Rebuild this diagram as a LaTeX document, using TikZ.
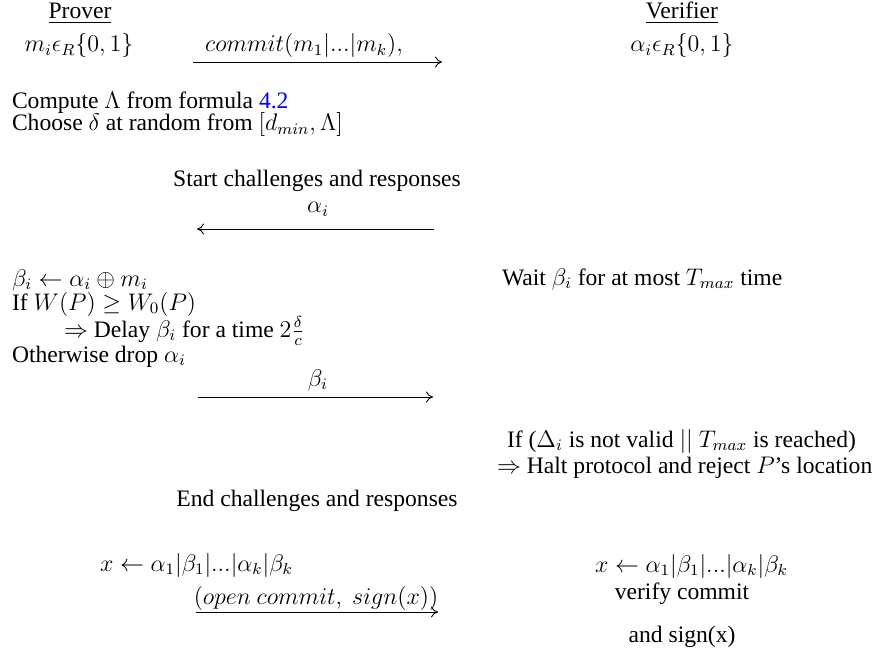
\documentclass[tikz,border=0pt]{standalone}
\usepackage[no-math]{fontspec}
\setmainfont{Liberation Serif}
\usepackage{xcolor}
\usetikzlibrary{arrows.meta}
\definecolor{linkblue}{RGB}{0,0,255}
\begin{document}
\begin{tikzpicture}[x=0.5pt,y=-0.5pt,
  every node/.style={inner sep=0pt,outer sep=0pt,font=\fontsize{11.8}{14}\selectfont},
  lt/.style={anchor=base west},
  ct/.style={anchor=base},
  msg/.style={-{To[length=3.5pt,width=5.5pt]},line width=0.45pt}]
\useasboundingbox (0,0) rectangle (881,652);
% headers
\node[ct] (prover) at (80,19) {\underline{Prover}};
\node[ct] (verifier) at (682,19) {\underline{Verifier}};
\node[ct] (mi) at (79,52) {$m_i\epsilon_R\{0,1\}$};
\node[ct] (ai) at (682,52) {$\alpha_i\epsilon_R\{0,1\}$};
% commit
\node[ct] (commit) at (304,52) {$commit(m_1|...|m_k),$};
\coordinate (c1) at (193,62);
\coordinate (c2) at (442,62);
\draw[msg] (c1) -- (c2);
\node[lt] (compute) at (12,109) {Compute $\Lambda$ from formula \textcolor{linkblue}{4.2}};
\node[lt] (choose) at (12,131) {Choose $\delta$ at random from $[d_{min},\Lambda]$};
% start
\node[ct] (start) at (317,186) {Start challenges and responses};
\node[ct] (alab) at (318,213) {$\alpha_i$};
\coordinate (a1) at (434,229);
\coordinate (a2) at (197,229);
\draw[msg] (a1) -- (a2);
% prover computations
\node[lt] (beta) at (12,286) {$\beta_i\leftarrow\alpha_i\oplus m_i$};
\node[lt] (ifw) at (12,310) {If $W(P)\geq W_0(P)$};
\node[lt] (delay) at (64,337) {$\Rightarrow$ Delay $\beta_i$ for a time $2\frac{\delta}{c}$};
\node[lt] (other) at (12,362) {Otherwise drop $\alpha_i$};
\node[lt] (wait) at (502,285) {Wait $\beta_i$ for at most $T_{max}$ time};
% beta message
\node[ct] (blab) at (318,386) {$\beta_i$};
\coordinate (b1) at (198,397);
\coordinate (b2) at (433,397);
\draw[msg] (b1) -- (b2);
% verifier check
\node[lt] (ifd) at (507,447) {If ($\Delta_i$ is not valid $||$ $T_{max}$ is reached)};
\node[lt] (halt) at (497,473) {$\Rightarrow$ Halt protocol and reject $P$'s location};
% end
\node[ct] (endc) at (317,506) {End challenges and responses};
\node[lt] (xp) at (100,571) {$x\leftarrow\alpha_1|\beta_1|...|\alpha_k|\beta_k$};
\node[ct] (open) at (316,604) {$(open\ commit,\ sign(x))$};
\coordinate (o1) at (196,612);
\coordinate (o2) at (438,612);
\draw[msg] (o1) -- (o2);
\node[lt] (xv) at (595,572) {$x\leftarrow\alpha_1|\beta_1|...|\alpha_k|\beta_k$};
\node[ct] (vc) at (682,599) {verify commit};
\node[ct] (sg) at (682,642) {and sign(x)};
\end{tikzpicture}
\end{document}
